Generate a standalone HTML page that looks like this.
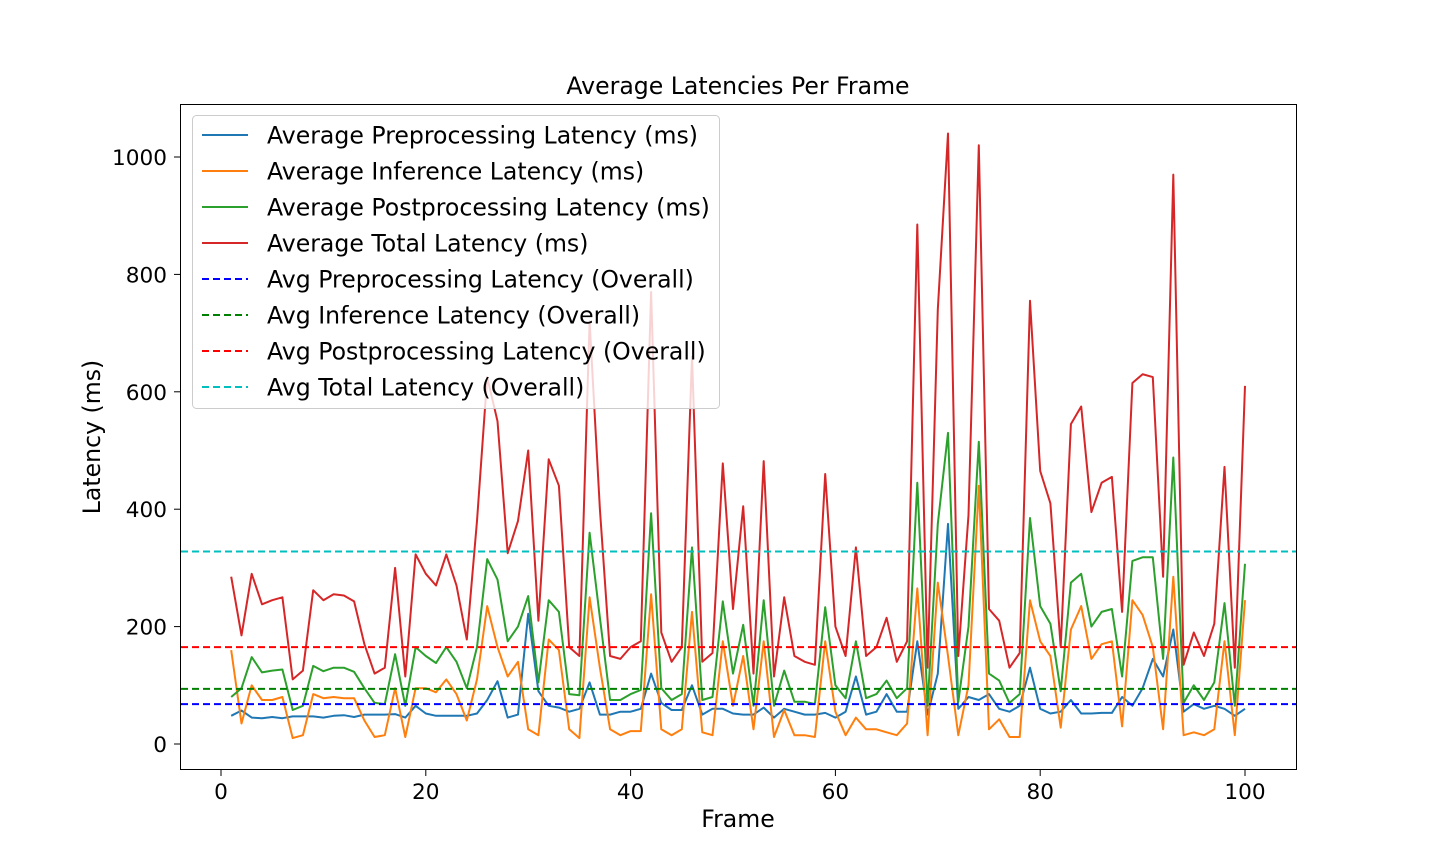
<!DOCTYPE html>
<html><head><meta charset="utf-8"><style>
html,body{margin:0;padding:0;background:#fff;}
svg{display:block;font-family:"DejaVu Sans","Liberation Sans",sans-serif;}
</style></head><body>
<svg id="chart" width="1440" height="864" viewBox="0 0 1440 864" xmlns="http://www.w3.org/2000/svg">
<rect width="1440" height="864" fill="#fff"/>
<text x="738" y="94" font-size="23.6" text-anchor="middle" fill="#000">Average Latencies Per Frame</text>
<g id="plot"></g>
<rect x="180.5" y="104.5" width="1116" height="665" fill="none" stroke="#000" stroke-width="1"/>
<g id="ticks"></g>
<text x="738" y="827" font-size="23.6" text-anchor="middle">Frame</text>
<text transform="translate(100,437) rotate(-90)" font-size="23.6" text-anchor="middle">Latency (ms)</text>
<g id="legend"></g>
</svg>
<script>
const frames = Array.from({length:100},(_,i)=>i+1);
const preLatency = [48,57,45,44,46,44,47,47,47,45,48,49,46,50,50,50,51,45,65,52,48,48,48,48,52,75,107,45,50,222,90,65,62,55,60,105,50,50,55,55,60,120,70,58,58,100,50,60,60,52,50,50,62,45,60,55,50,50,53,45,55,115,50,55,85,55,55,175,50,120,375,60,80,75,85,60,55,65,130,60,52,55,75,52,52,53,53,80,65,95,145,115,195,55,68,60,65,60,48,60];
const infLatency = [160,35,100,75,75,80,10,15,85,78,80,78,78,40,12,15,95,12,95,95,88,110,85,40,110,235,165,115,140,25,15,178,160,25,10,250,130,25,15,22,22,255,25,15,25,225,20,15,175,65,150,25,175,12,58,15,15,12,175,55,15,45,25,25,20,15,35,265,15,275,150,15,100,440,25,42,12,12,245,175,150,28,195,235,145,170,175,30,245,220,165,25,285,15,20,15,25,175,15,245];
const postLatency = [80,95,148,122,125,127,58,65,133,124,130,130,123,95,70,68,153,65,165,150,138,165,140,95,165,315,280,175,200,252,105,245,225,85,83,360,215,75,75,85,92,393,95,75,85,335,75,80,243,120,203,65,245,65,125,72,72,68,233,100,78,175,78,85,108,78,95,445,65,375,530,72,200,515,120,108,70,85,385,235,205,90,275,290,200,225,230,115,312,318,318,145,488,70,100,75,105,240,65,307];
const totalLatency = [285,185,290,238,245,250,110,125,262,245,255,253,243,170,120,130,300,115,323,290,270,323,270,178,380,625,550,325,380,500,210,485,440,165,150,720,400,150,145,165,175,770,190,140,165,660,140,155,478,230,405,120,482,115,250,150,140,135,460,200,150,335,150,165,215,140,175,885,130,740,1040,150,390,1020,230,210,130,155,755,465,410,165,545,575,395,445,455,225,615,630,625,285,970,135,190,150,205,472,130,610];
const overallAvgs = [68, 94, 165, 328];
const xTicks = [0,20,40,60,80,100];
const yTicks = [0,200,400,600,800,1000];

const NS='http://www.w3.org/2000/svg';
const X = v => 221 + v*10.24;
const Y = v => 744 - v*0.587;
function mk(tag, attrs, parent){const e=document.createElementNS(NS,tag);for(const k in attrs)e.setAttribute(k,attrs[k]);parent.appendChild(e);return e;}
const plot=document.getElementById('plot');
const series=[
 {d:preLatency,c:'#1f77b4',n:'preprocessing-line'},
 {d:infLatency,c:'#ff7f0e',n:'inference-line'},
 {d:postLatency,c:'#2ca02c',n:'postprocessing-line'},
 {d:totalLatency,c:'#d62728',n:'total-line'}];
series.forEach(s=>{
 const p=mk('polyline',{points:s.d.map((v,i)=>X(frames[i]).toFixed(1)+','+Y(v).toFixed(1)).join(' '),fill:'none',stroke:s.c,'stroke-width':2,'stroke-linejoin':'round'},plot);
 
 
});
const hcol=['#0000ff','#008000','#ff0000','#00bfbf'];
const hname=['avg-pre-line','avg-inf-line','avg-post-line','avg-total-line'];
overallAvgs.forEach((v,i)=>{
 const l=mk('line',{x1:181,x2:1296,y1:Y(v),y2:Y(v),stroke:hcol[i],'stroke-width':2,'stroke-dasharray':'7,4'},plot);
 
 
});
const tk=document.getElementById('ticks');
xTicks.forEach(t=>{
 mk('line',{x1:X(t),x2:X(t),y1:770,y2:776,stroke:'#000'},tk);
 const tx=mk('text',{x:X(t),y:799,'font-size':21.6,'text-anchor':'middle'},tk);tx.textContent=t;
 
 
});
yTicks.forEach(t=>{
 mk('line',{x1:174,x2:180,y1:Y(t),y2:Y(t),stroke:'#000'},tk);
 const tx=mk('text',{x:167,y:Y(t)+8,'font-size':21.6,'text-anchor':'end'},tk);tx.textContent=t;
 
 
});
const lg=document.getElementById('legend');
mk('rect',{x:192.5,y:115.5,width:527,height:293,rx:4,fill:'#fff','fill-opacity':0.8,stroke:'#ccc'},lg);
const labels=['Average Preprocessing Latency (ms)','Average Inference Latency (ms)','Average Postprocessing Latency (ms)','Average Total Latency (ms)','Avg Preprocessing Latency (Overall)','Avg Inference Latency (Overall)','Avg Postprocessing Latency (Overall)','Avg Total Latency (Overall)'];
const lcol=['#1f77b4','#ff7f0e','#2ca02c','#d62728'].concat(hcol);
labels.forEach((t,i)=>{
 const y=135+i*36;
 const ln=mk('line',{x1:202,x2:248,y1:y,y2:y,stroke:lcol[i],'stroke-width':2},lg);
 if(i>=4) ln.setAttribute('stroke-dasharray','7,4');
 const tx=mk('text',{x:267,y:y+8.5,'font-size':23.6},lg);tx.textContent=t;
 
 
});
</script>
</body></html>
